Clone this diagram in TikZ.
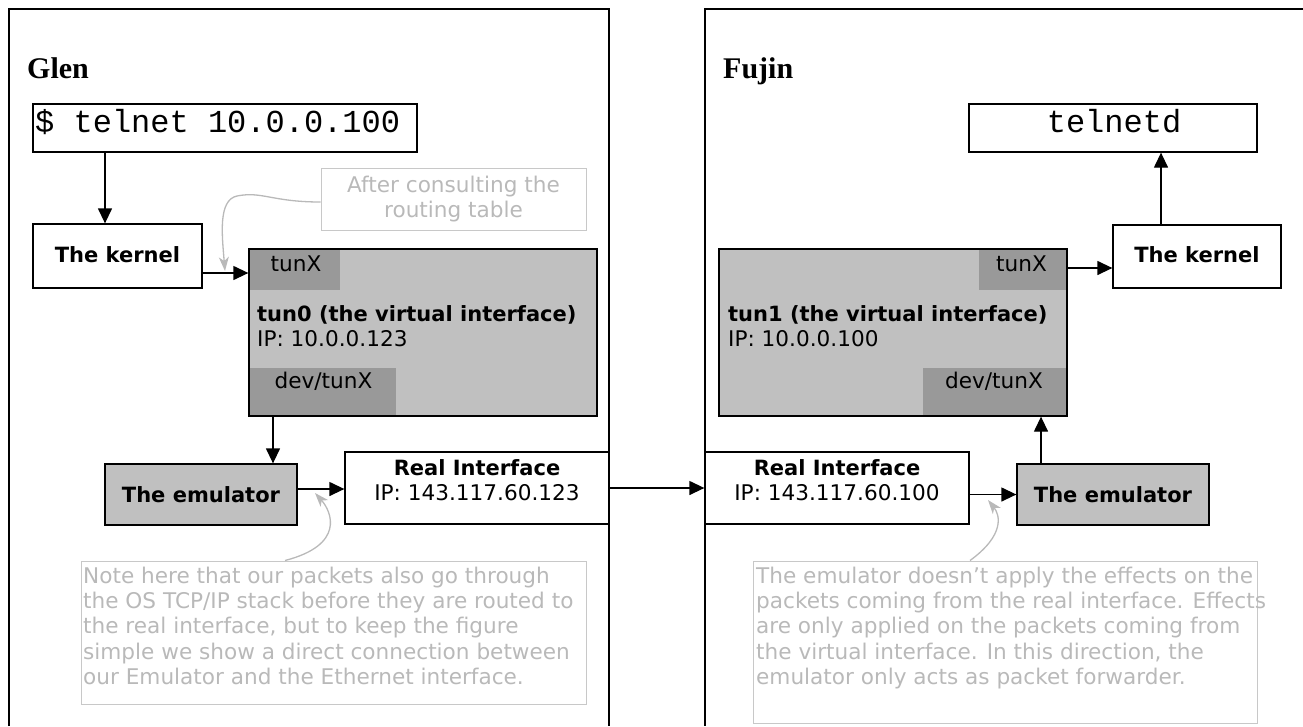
\documentclass[tikz,border=0pt]{standalone}
\usepackage{fontspec}
\setmainfont{DejaVu Sans}
\newfontfamily\serifb{Liberation Serif}
\newfontfamily\monof{Liberation Mono}
\usetikzlibrary{arrows.meta}
\definecolor{boxgray}{RGB}{192,192,192}
\definecolor{subgray}{RGB}{153,153,153}
\definecolor{notegray}{RGB}{200,200,200}
\definecolor{ntext}{RGB}{185,185,185}
\definecolor{curvegray}{RGB}{185,185,185}
\tikzset{
  box/.style={draw=black, line width=1.3pt, fill=white, inner sep=0pt},
  graybox/.style={box, fill=boxgray},
  subbox/.style={fill=subgray, draw=none, inner sep=0pt},
  notebox/.style={draw=notegray, line width=1pt, inner sep=0pt},
  arr/.style={line width=1.3pt, -{Triangle[length=15pt,width=14pt]}},
  garr/.style={draw=curvegray, line width=1.3pt, -{Stealth[length=14pt,width=10pt,inset=4pt]}},
  panel/.style={line width=1.3pt},
  lbl/.style={font=\fontsize{21.6}{25.5}\selectfont, inner sep=0pt},
  blbl/.style={font=\bfseries\fontsize{21}{25}\selectfont, inner sep=0pt},
  nlbl/.style={lbl, text=ntext, anchor=base west},
  mono/.style={font=\monof\fontsize{32}{36}\selectfont, inner sep=0pt},
  host/.style={font=\serifb\bfseries\fontsize{30}{34}\selectfont, inner sep=0pt, anchor=base west},
}
\begin{document}
\begin{tikzpicture}[x=1pt,y=-1pt]
\useasboundingbox (0,0) rectangle (1303,726);
% panels
\draw[panel] (9,726) -- (9,9) -- (609,9) -- (609,726);
\draw[panel] (1303,9) -- (705,9) -- (705,726);
\node[host] (glen) at (27,78) {Glen};
\node[host] (fujin) at (723,78) {Fujin};

% ---------- Glen ----------
\node[box, minimum width=384pt, minimum height=48pt] (telnet) at (225,128) {};
\node[mono, anchor=base west] (telnett) at (35,132) {\$ telnet 10.0.0.100};
\node[box, minimum width=169pt, minimum height=64pt] (kernelL) at (117.5,256) {};
\node[blbl, anchor=base] (kernelLt) at (117.5,262) {The kernel};
\node[notebox, minimum width=265pt, minimum height=62pt] (after) at (453.5,199) {};
\node[lbl, text=ntext, anchor=base] (aftert1) at (453.5,192) {After consulting the};
\node[lbl, text=ntext, anchor=base] (aftert2) at (453.5,217) {routing table};

\node[graybox, minimum width=348pt, minimum height=167pt] (tun0) at (423,332.5) {};
\node[subbox, minimum width=89.5pt, minimum height=40pt] (tun0x) at (295,270) {};
\node[subbox, minimum width=146pt, minimum height=47pt] (tun0d) at (323,391.6) {};
\node[lbl, anchor=base] (tun0xt) at (296,271) {tunX};
\node[lbl, anchor=base] (tun0dt) at (323.5,388) {dev/tunX};
\node[blbl, anchor=base west] (tun0t) at (257,321) {tun0 (the virtual interface)};
\node[lbl, anchor=base west] (tun0ip) at (257,346) {IP: 10.0.0.123};

\node[graybox, minimum width=192pt, minimum height=61pt] (emuL) at (201,494.5) {};
\node[blbl, anchor=base] (emuLt) at (201,502) {The emulator};
\node[box, minimum width=264pt, minimum height=72pt] (realL) at (477,488) {};
\node[blbl, anchor=base] (realLt) at (477,475) {Real Interface};
\node[lbl, anchor=base] (realLip) at (477,500) {IP: 143.117.60.123};

\node[notebox, minimum width=505pt, minimum height=143pt] (noteL) at (333.5,632.5) {};
\node[nlbl] (nl1) at (83,583) {Note here that our packets also go through};
\node[nlbl] (nl2) at (83,608) {the OS TCP/IP stack before they are routed to};
\node[nlbl] (nl3) at (83,633) {the real interface, but to keep the figure};
\node[nlbl] (nl4) at (83,659) {simple we show a direct connection between};
\node[nlbl] (nl5) at (83,684) {our Emulator and the Ethernet interface.};

% ---------- Fujin ----------
\node[box, minimum width=288pt, minimum height=48pt] (telnetd) at (1113,128) {};
\node[mono, anchor=base] (telnetdt) at (1114,132) {telnetd};
\node[box, minimum width=168pt, minimum height=63pt] (kernelR) at (1197,256.5) {};
\node[blbl, anchor=base] (kernelRt) at (1197,262) {The kernel};

\node[graybox, minimum width=348pt, minimum height=167pt] (tun1) at (893,332.5) {};
\node[subbox, minimum width=87.4pt, minimum height=39.5pt] (tun1x) at (1022.7,269.8) {};
\node[subbox, minimum width=143.4pt, minimum height=47pt] (tun1d) at (994.7,391.6) {};
\node[lbl, anchor=base east] (tun1xt) at (1047,271) {tunX};
\node[lbl, anchor=base east] (tun1dt) at (1043,388) {dev/tunX};
\node[blbl, anchor=base west] (tun1t) at (728,321) {tun1 (the virtual interface)};
\node[lbl, anchor=base west] (tun1ip) at (728,346) {IP: 10.0.0.100};

\node[box, minimum width=264pt, minimum height=72pt] (realR) at (837,488) {};
\node[blbl, anchor=base] (realRt) at (837,475) {Real Interface};
\node[lbl, anchor=base] (realRip) at (837,500) {IP: 143.117.60.100};
\node[graybox, minimum width=192pt, minimum height=61pt] (emuR) at (1113,494.5) {};
\node[blbl, anchor=base] (emuRt) at (1113,502) {The emulator};

\node[notebox, minimum width=504pt, minimum height=162pt] (noteR) at (1005,642) {};
\node[nlbl] (nr1) at (756,583) {The emulator doesn’t apply the effects on the};
\node[nlbl] (nr2) at (756,608) {packets coming from the real interface. Effects};
\node[nlbl] (nr3) at (756,633) {are only applied on the packets coming from};
\node[nlbl] (nr4) at (756,659) {the virtual interface. In this direction, the};
\node[nlbl] (nr5) at (756,684) {emulator only acts as packet forwarder.};

% ---------- connectors ----------
\draw[arr] ([xshift=-120pt]telnet.south) -- ([xshift=-12.5pt]kernelL.north);
\draw[arr] ([yshift=-17pt]kernelL.east) -- ([yshift=59.5pt]tun0.west);
\draw[arr] ([xshift=-150pt]tun0.south) -- ([xshift=72pt]emuL.north);
\draw[arr] ([yshift=5.5pt]emuL.east) -- ([yshift=-1pt]realL.west);
\draw[arr] (realL.east) -- (realR.west);
\draw[arr] ([yshift=-6.5pt]realR.east) -- (emuR.west);
\draw[arr] ([xshift=-72pt]emuR.north) -- ([xshift=148pt]tun1.south);
\draw[arr] ([yshift=64.5pt]tun1.east) -- ([yshift=-11.5pt]kernelR.west);
\draw[arr] ([xshift=-36pt]kernelR.north) -- ([xshift=48pt]telnetd.south);

% gray annotation curves
\coordinate (tip1) at (225,271);
\coordinate (tip2) at (315,493);
\coordinate (tip3) at (988,500);
\draw[garr] ([yshift=-3pt]after.west) .. controls (272,202) and (262,191) .. (237,196) .. controls (218,200) and (222,235) .. (tip1);
\draw[garr] ([xshift=-48.5pt]noteL.north) .. controls (345,545) and (332,512) .. (tip2);
\draw[garr] ([xshift=-35pt]noteR.north) .. controls (1005,535) and (1000,515) .. (tip3);
\end{tikzpicture}
\end{document}
